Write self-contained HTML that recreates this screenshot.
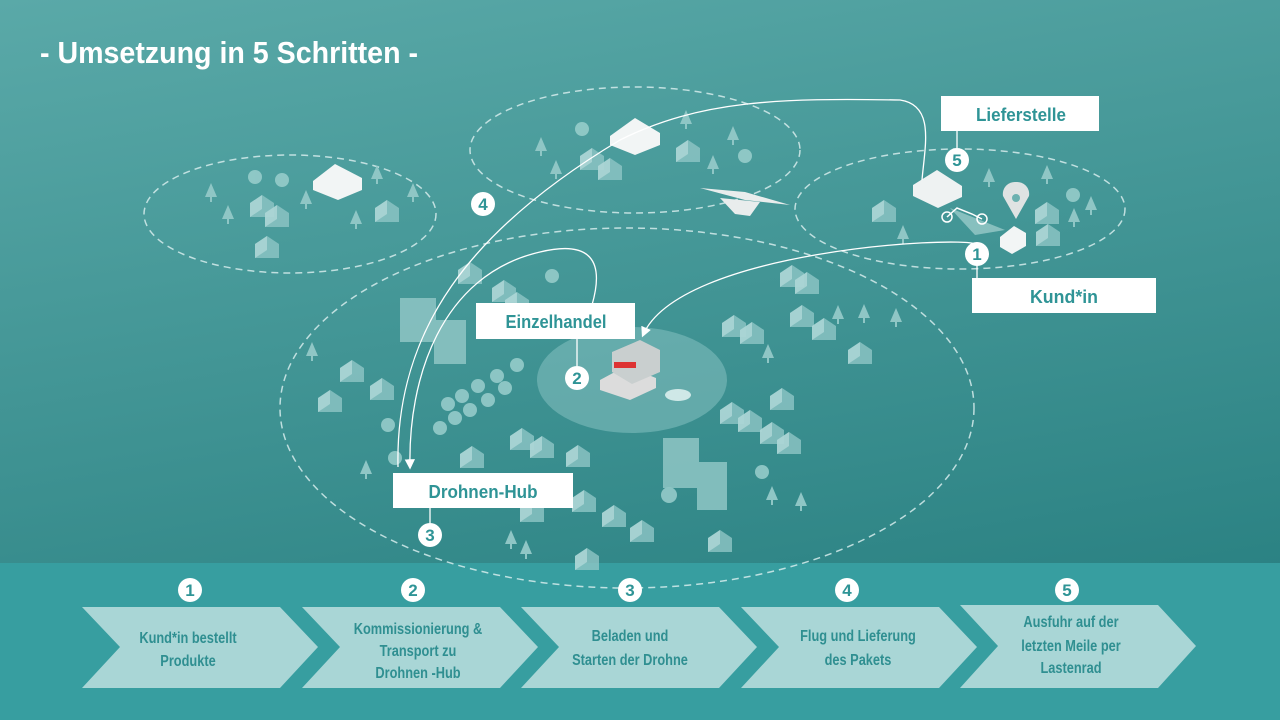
<!DOCTYPE html>
<html><head><meta charset="utf-8"><style>
body{margin:0;width:1280px;height:720px;overflow:hidden;font-family:"Liberation Sans",sans-serif;}
svg{display:block}
text{font-family:"Liberation Sans",sans-serif;font-weight:bold}
</style></head><body>
<svg width="1280" height="720" viewBox="0 0 1280 720">
<defs>
<linearGradient id="bg" x1="0" y1="0" x2="0.3" y2="1">
<stop offset="0" stop-color="#5aa9a8"/><stop offset="1" stop-color="#2b8283"/>
</linearGradient>
<g id="h"><polygon points="0,8 12,0 24,8 24,22 0,22" fill="#8fc6c5" opacity="0.8"/><polygon points="0,8 12,0 12,14 0,22" fill="#b7dcdb" opacity="0.7"/></g>
<g id="t"><polygon points="6,0 12,14 0,14" fill="#8fc6c5"/><rect x="5" y="14" width="2" height="5" fill="#8fc6c5"/></g>
<marker id="ar" markerWidth="8" markerHeight="8" refX="6" refY="4" orient="auto"><path d="M0,0 L8,4 L0,8z" fill="#fff"/></marker>
</defs>
<rect width="1280" height="720" fill="url(#bg)"/>
<rect x="0" y="563" width="1280" height="157" fill="#379ea0"/>
<text x="40" y="63" fill="#fff" font-size="31" textLength="378" lengthAdjust="spacingAndGlyphs">- Umsetzung in 5 Schritten -</text>
<g fill="none" stroke="#d6ecec" stroke-width="1.5" stroke-dasharray="7,5" opacity="0.85">
<ellipse cx="290" cy="214" rx="146" ry="59"/>
<ellipse cx="635" cy="150" rx="165" ry="63"/>
<ellipse cx="960" cy="209" rx="165" ry="60"/>
<ellipse cx="627" cy="408" rx="347" ry="180"/>
</g>
<ellipse cx="632" cy="380" rx="95" ry="53" fill="#7fbdbc" opacity="0.6"/>
<ellipse cx="678" cy="395" rx="13" ry="6" fill="#cfe8e7"/>
<g>
<use href="#h" x="250" y="195"/><use href="#h" x="265" y="205"/><use href="#h" x="375" y="200"/><use href="#h" x="255" y="236"/>
<use href="#h" x="580" y="148"/><use href="#h" x="598" y="158"/><use href="#h" x="676" y="140"/>
<use href="#h" x="872" y="200"/><use href="#h" x="1035" y="202"/><use href="#h" x="1036" y="224"/>
<use href="#h" x="458" y="262"/><use href="#h" x="492" y="280"/><use href="#h" x="505" y="292"/><use href="#h" x="340" y="360"/><use href="#h" x="370" y="378"/><use href="#h" x="318" y="390"/>
<use href="#h" x="722" y="315"/><use href="#h" x="740" y="322"/><use href="#h" x="780" y="265"/><use href="#h" x="795" y="272"/><use href="#h" x="790" y="305"/><use href="#h" x="812" y="318"/><use href="#h" x="848" y="342"/>
<use href="#h" x="720" y="402"/><use href="#h" x="738" y="410"/><use href="#h" x="770" y="388"/><use href="#h" x="760" y="422"/><use href="#h" x="777" y="432"/>
<use href="#h" x="510" y="428"/><use href="#h" x="530" y="436"/><use href="#h" x="460" y="446"/><use href="#h" x="566" y="445"/><use href="#h" x="572" y="490"/><use href="#h" x="520" y="500"/>
<use href="#h" x="602" y="505"/><use href="#h" x="630" y="520"/><use href="#h" x="708" y="530"/><use href="#h" x="575" y="548"/>
<use href="#t" x="205" y="183"/><use href="#t" x="222" y="205"/><use href="#t" x="300" y="190"/><use href="#t" x="371" y="165"/><use href="#t" x="407" y="183"/><use href="#t" x="350" y="210"/>
<use href="#t" x="535" y="137"/><use href="#t" x="550" y="160"/><use href="#t" x="680" y="110"/><use href="#t" x="727" y="126"/><use href="#t" x="707" y="155"/>
<use href="#t" x="983" y="168"/><use href="#t" x="1041" y="165"/><use href="#t" x="1085" y="196"/><use href="#t" x="1068" y="208"/><use href="#t" x="897" y="225"/>
<use href="#t" x="306" y="342"/><use href="#t" x="360" y="460"/><use href="#t" x="762" y="344"/><use href="#t" x="832" y="305"/><use href="#t" x="858" y="304"/><use href="#t" x="890" y="308"/>
<use href="#t" x="766" y="486"/><use href="#t" x="795" y="492"/><use href="#t" x="505" y="530"/><use href="#t" x="520" y="540"/>
</g>
<g fill="#9acfcd" opacity="0.85">
<circle cx="255" cy="177" r="7"/><circle cx="282" cy="180" r="7"/><circle cx="582" cy="129" r="7"/><circle cx="745" cy="156" r="7"/><circle cx="1073" cy="195" r="7"/>
<circle cx="552" cy="276" r="7"/><circle cx="517" cy="365" r="7"/><circle cx="497" cy="376" r="7"/><circle cx="478" cy="386" r="7"/><circle cx="462" cy="396" r="7"/><circle cx="448" cy="404" r="7"/><circle cx="505" cy="388" r="7"/><circle cx="488" cy="400" r="7"/><circle cx="470" cy="410" r="7"/><circle cx="455" cy="418" r="7"/><circle cx="440" cy="428" r="7"/><circle cx="388" cy="425" r="7"/><circle cx="395" cy="458" r="7"/><circle cx="762" cy="472" r="7"/><circle cx="669" cy="495" r="8"/>
</g>
<g fill="#8fc6c5" opacity="0.85">
<rect x="400" y="298" width="36" height="44"/><rect x="434" y="320" width="32" height="44"/><rect x="663" y="438" width="36" height="50"/><rect x="697" y="462" width="30" height="48"/>
</g>
<polygon points="313,181 335,164 362,178 362,190 338,200 313,190" fill="#f2f5f5"/>
<polygon points="610,136 635,118 660,133 660,145 635,155 610,145" fill="#f2f5f5"/>
<polygon points="913,185 937,170 962,186 962,197 938,208 913,196" fill="#eef2f2"/>
<polygon points="1000,237 1014,226 1026,233 1026,246 1012,254 1000,247" fill="#f2f5f5"/>
<polygon points="950,208 1005,230 975,235" fill="#b6dcdb" opacity="0.6"/>
<path d="M1016,182 a12,12 0 0 1 13,14 L1016,219 L1003,196 a12,12 0 0 1 13,-14z" fill="#dfe3e3"/>
<circle cx="1016" cy="198" r="4" fill="#6cb1b0"/>
<g stroke="#fff" stroke-width="1.5" fill="none"><circle cx="947" cy="217" r="5"/><circle cx="982" cy="219" r="5"/><path d="M947,217 L957,208 L972,214 L982,219"/></g>
<g fill="#e9eded"><path d="M700,188 L745,192 L790,205 L745,200z"/><path d="M720,198 L760,202 L750,216 L735,214z"/></g>
<g><polygon points="600,380 626,366 656,378 656,388 630,400 600,390" fill="#dcdcdc"/><polygon points="612,352 640,340 660,350 660,372 632,384 612,372" fill="#c9cfcf"/><rect x="614" y="362" width="22" height="6" fill="#d33"/></g>
<g fill="none" stroke="#fff" stroke-width="1.3">
<path d="M975,244 C960,236 680,250 643,335" marker-end="url(#ar)"/>
<path d="M592,305 C605,260 590,240 540,252 C440,275 408,380 410,467" marker-end="url(#ar)"/>
<path d="M398,467 C395,330 470,230 620,140 C700,100 780,98 900,100 C935,105 925,145 922,180"/>
<line x1="957" y1="131" x2="957" y2="148"/><line x1="977" y1="266" x2="977" y2="278"/><line x1="577" y1="339" x2="577" y2="366"/><line x1="430" y1="508" x2="430" y2="523"/>
</g>
<g fill="#fff"><rect x="941" y="96" width="158" height="35"/><rect x="972" y="278" width="184" height="35"/><rect x="476" y="303" width="159" height="36"/><rect x="393" y="473" width="180" height="35"/></g>
<g fill="#2f9496" font-size="18" text-anchor="middle" lengthAdjust="spacingAndGlyphs">
<text x="1021" y="121" textLength="90" lengthAdjust="spacingAndGlyphs">Lieferstelle</text><text x="1064" y="303" textLength="68" lengthAdjust="spacingAndGlyphs">Kund*in</text><text x="556" y="328" textLength="101" lengthAdjust="spacingAndGlyphs">Einzelhandel</text><text x="483" y="498" textLength="109" lengthAdjust="spacingAndGlyphs">Drohnen-Hub</text>
</g>
<g fill="#fff"><circle cx="957" cy="160" r="12"/><circle cx="977" cy="254" r="12"/><circle cx="577" cy="378" r="12"/><circle cx="430" cy="535" r="12"/><circle cx="483" cy="204" r="12"/></g>
<g fill="#2f9496" font-size="17" text-anchor="middle"><text x="957" y="166">5</text><text x="977" y="260">1</text><text x="577" y="384">2</text><text x="430" y="541">3</text><text x="483" y="210">4</text></g>
<g fill="#a9d6d6">
<polygon points="82,607 280,607 318,647 280,688 82,688 120,647"/>
<polygon points="302,607 500,607 538,647 500,688 302,688 340,647"/>
<polygon points="521,607 719,607 757,647 719,688 521,688 559,647"/>
<polygon points="741,607 939,607 977,647 939,688 741,688 779,647"/>
<polygon points="960,605 1158,605 1196,646 1158,688 960,688 998,646"/>
</g>
<g fill="#fff"><circle cx="190" cy="590" r="12"/><circle cx="413" cy="590" r="12"/><circle cx="630" cy="590" r="12"/><circle cx="847" cy="590" r="12"/><circle cx="1067" cy="590" r="12"/></g>
<g fill="#2f9496" font-size="17" text-anchor="middle"><text x="190" y="596">1</text><text x="413" y="596">2</text><text x="630" y="596">3</text><text x="847" y="596">4</text><text x="1067" y="596">5</text></g>
<g fill="#2f8f91" font-size="16" text-anchor="middle" transform="scale(0.8,1)">
<text x="235" y="643">Kund*in bestellt</text><text x="235" y="666">Produkte</text>
<text x="522.5" y="634">Kommissionierung &amp;</text><text x="522.5" y="656">Transport zu</text><text x="522.5" y="678">Drohnen -Hub</text>
<text x="787.5" y="641">Beladen und</text><text x="787.5" y="665">Starten der Drohne</text>
<text x="1072.5" y="641">Flug und Lieferung</text><text x="1072.5" y="665">des Pakets</text>
<text x="1338.75" y="627">Ausfuhr auf der</text><text x="1338.75" y="651">letzten Meile per</text><text x="1338.75" y="673">Lastenrad</text>
</g>
</svg>
</body></html>
